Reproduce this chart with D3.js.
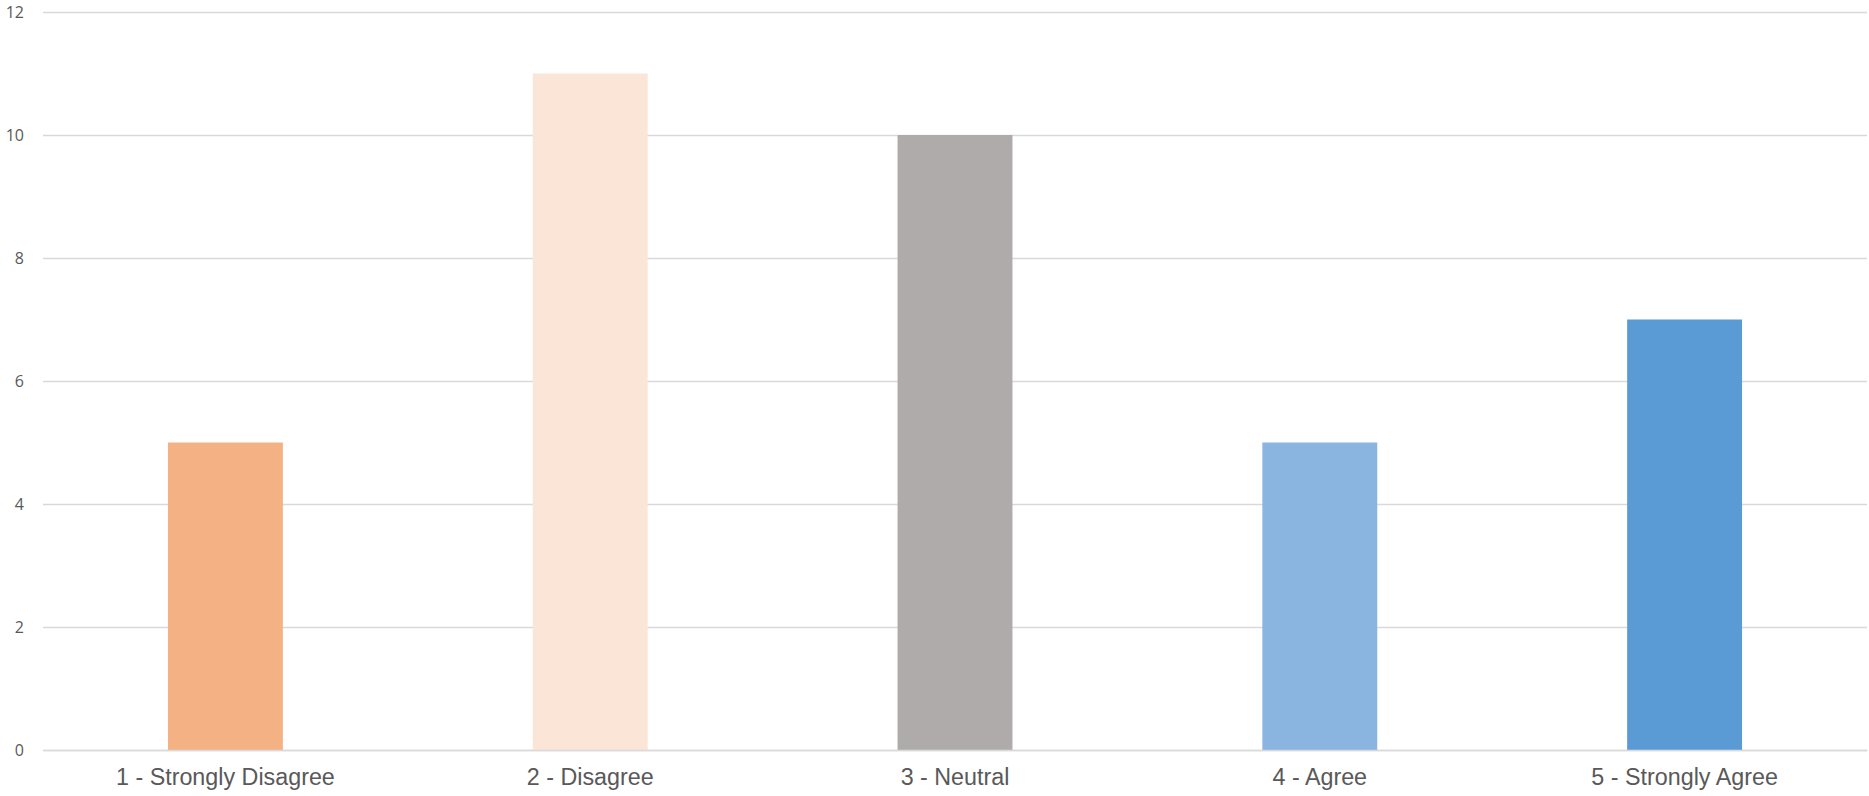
<!DOCTYPE html>
<html><head><meta charset="utf-8">
<script src="https://cdn.jsdelivr.net/npm/d3@7"></script>
<style>body{margin:0;background:#fff}svg{display:block}</style>
</head><body>
<svg id="c" width="1869" height="796"></svg>
<script>
const categories = ["1 - Strongly Disagree","2 - Disagree","3 - Neutral","4 - Agree","5 - Strongly Agree"];
const values = [5, 11, 10, 5, 7];
const colors = ["#F4B183","#FBE5D6","#AFABAB","#89B5E0","#5B9BD5"];
const yTicks = [0,2,4,6,8,10,12];

const svg = d3.select("#c");
const mLeft = 43, mRight = 1867, mTop = 12, mBottom = 750;
const x = d3.scaleBand().domain(categories).range([mLeft, mRight]).paddingInner(0.685).paddingOuter(0.3425);
const y = d3.scaleLinear().domain([0, 12]).range([mBottom, mTop]);

const yAxis = d3.axisLeft(y).tickValues(yTicks).tickSize(-(mRight-mLeft)).tickPadding(19);
const gy = svg.append("g").attr("transform", `translate(${mLeft},0)`).call(yAxis);
gy.select(".domain").remove();
gy.selectAll(".tick line").attr("stroke", "#d9d9d9").attr("stroke-width", 1.3);
gy.selectAll(".tick text").attr("fill", "#595959").style("font-family", "'Open Sans', sans-serif").style("font-size", "16px");

svg.append("g").selectAll("rect").data(values).join("rect")
  .attr("x", (d,i) => x(categories[i]))
  .attr("width", x.bandwidth())
  .attr("y", d => y(d))
  .attr("height", d => y(0) - y(d))
  .attr("fill", (d,i) => colors[i]);

const xAxis = d3.axisBottom(x).tickSize(0).tickPadding(18);
const gx = svg.append("g").attr("transform", `translate(0,${mBottom})`).call(xAxis);
gx.select(".domain").attr("stroke", "#d9d9d9").attr("stroke-width", 1.3);
gx.selectAll(".tick text").attr("fill", "#595959").style("font-family", "'Liberation Sans', Arial, sans-serif").style("font-size", "23.3px");
</script>
</body></html>
